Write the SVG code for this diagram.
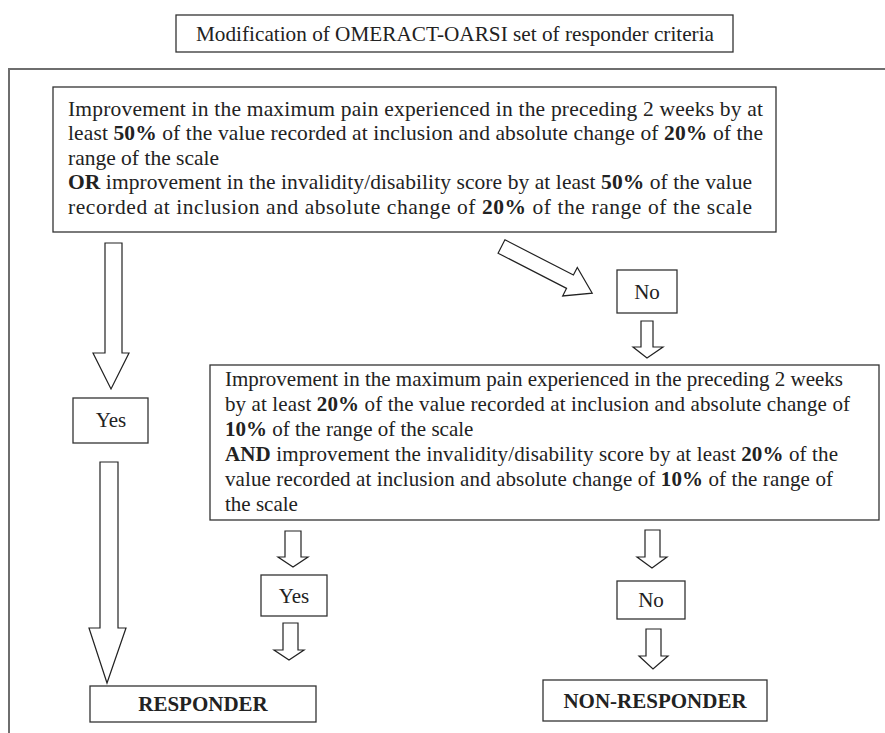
<svg xmlns="http://www.w3.org/2000/svg" width="885" height="733" viewBox="0 0 885 733">
<style>
.box{fill:#fff;stroke:#333;stroke-width:1.3}
.arr{fill:#fff;stroke:#222;stroke-width:1.2;stroke-linejoin:miter}
.frame{fill:none;stroke:#6e6e6e;stroke-width:2}
text{font-family:"Liberation Serif","Times New Roman",serif;font-size:21px;fill:#222}
.t1{font-size:21.5px}
.b{font-weight:bold}
.c{text-anchor:middle}
</style>
<rect width="885" height="733" fill="#fff"/>
<g id="frame"><path class="frame" d="M9,733 V69 H885"/></g>
<g id="title"><rect class="box" x="176" y="15" width="557" height="37"/><text x="196" y="41" textLength="518" lengthAdjust="spacingAndGlyphs">Modification of OMERACT-OARSI set of responder criteria</text></g>
<g id="criteria1"><rect class="box" x="53" y="87" width="723" height="145"/>
<text class="t1" x="68" y="116" textLength="695">Improvement in the maximum pain experienced in the preceding 2 weeks by at</text>
<text class="t1" x="68" y="140" textLength="695">least <tspan class="b">50%</tspan> of the value recorded at inclusion and absolute change of <tspan class="b">20%</tspan> of the</text>
<text class="t1" x="68" y="165">range of the scale</text>
<text class="t1" x="68" y="189" textLength="684"><tspan class="b">OR</tspan> improvement in the invalidity/disability score by at least <tspan class="b">50%</tspan> of the value</text>
<text class="t1" x="68" y="214" textLength="684">recorded at inclusion and absolute change of <tspan class="b">20%</tspan> of the range of the scale</text>
</g>
<g id="no1"><rect class="box" x="617" y="270" width="60" height="43"/><text class="c" x="647" y="299">No</text></g>
<g id="yes1"><rect class="box" x="73" y="398" width="75" height="45"/><text class="c" x="111" y="427">Yes</text></g>
<g id="criteria2"><rect class="box" x="210" y="365" width="669" height="155"/>
<text x="225" y="386" textLength="618">Improvement in the maximum pain experienced in the preceding 2 weeks</text>
<text x="225" y="411" textLength="625">by at least <tspan class="b">20%</tspan> of the value recorded at inclusion and absolute change of</text>
<text x="225" y="436"><tspan class="b">10%</tspan> of the range of the scale</text>
<text x="225" y="461" textLength="613"><tspan class="b">AND</tspan> improvement the invalidity/disability score by at least <tspan class="b">20%</tspan> of the</text>
<text x="225" y="486" textLength="608">value recorded at inclusion and absolute change of <tspan class="b">10%</tspan> of the range of</text>
<text x="225" y="511">the scale</text>
</g>
<g id="yes2"><rect class="box" x="261" y="575" width="66" height="41"/><text class="c" x="294" y="603">Yes</text></g>
<g id="no2"><rect class="box" x="617" y="581" width="68" height="38"/><text class="c" x="651" y="607">No</text></g>
<g id="responder"><rect class="box" x="90" y="686" width="226" height="36"/><text class="c b" x="203" y="711">RESPONDER</text></g>
<g id="nonresponder"><rect class="box" x="543" y="680" width="224" height="41"/><text class="c b" x="655" y="708">NON-RESPONDER</text></g>
<g id="connectors">
<polygon class="arr" points="105,243 122,243 122,353 129,353 111,389 93,353 105,353"/>
<polygon class="arr" points="100,462 118,462 118,628 126,628 107,683 89,628 100,628"/>
<polygon class="arr" transform="translate(501.5,246.5) rotate(27.2)" points="0,-7.5 77,-7.5 77,-16 102,0 77,16 77,7.5 0,7.5"/>
<polygon class="arr" points="641,321 653,321 653,347 663,347 647,358 633,347 641,347"/>
<polygon class="arr" points="285,531 301,531 301,557 308,557 293,567 278,557 285,557"/>
<polygon class="arr" points="645,530 660,530 660,557 667,557 652,568 637,557 645,557"/>
<polygon class="arr" points="283,623 298,623 298,650 304,650 289,660 274,650 283,650"/>
<polygon class="arr" points="646,629 661,629 661,656 668,656 653,669 639,656 646,656"/>
</g>
</svg>
